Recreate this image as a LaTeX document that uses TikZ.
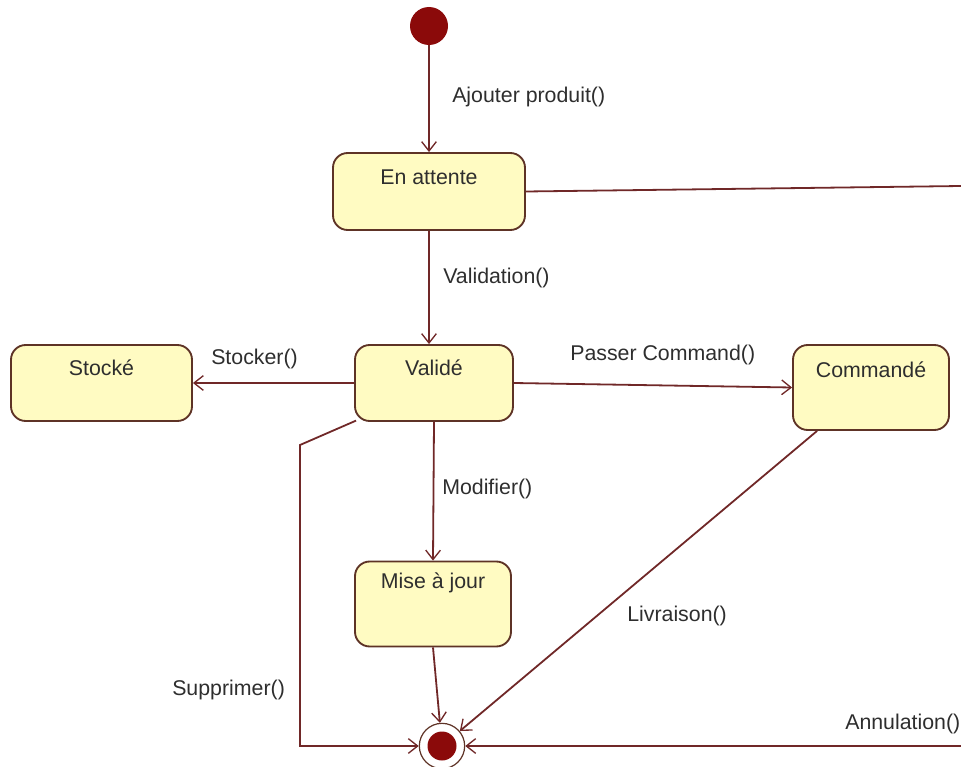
\documentclass[tikz,border=0pt]{standalone}
\usepackage{fontspec}
\setmainfont{Liberation Sans}
\usetikzlibrary{arrows.meta}
\definecolor{statefill}{HTML}{FFFBC2}
\definecolor{stateedge}{HTML}{5E3326}
\definecolor{wire}{HTML}{702828}
\definecolor{dotred}{HTML}{8B0A0A}
\definecolor{ink}{HTML}{2E2E2E}
\begin{document}
\begin{tikzpicture}[x=0.75pt,y=-0.75pt,
  font=\fontsize{16}{19}\selectfont,
  state/.style={draw=stateedge, fill=statefill, line width=1.4pt,
    rounded corners=11pt, inner sep=0pt},
  statetext/.style={text=ink, inner sep=0pt},
  evt/.style={text=ink, anchor=west, inner sep=0pt},
  wireline/.style={draw=wire, line width=1.35pt},
  flow/.style={wireline, -{Straight Barb[length=7pt,width=11pt,line width=1pt]}}]
\useasboundingbox (0,0) rectangle (961,767);
\clip (0,0) rectangle (961,767);

% states
\node[state, minimum width=144pt, minimum height=57.75pt] (attente) at (429,191.5) {};
\node[statetext] (attente-t) at (429,177) {En attente};
\node[state, minimum width=118.5pt, minimum height=57pt] (valide) at (434,383) {};
\node[statetext] (valide-t) at (434,368) {Validé};
\node[state, minimum width=135.75pt, minimum height=57pt] (stocke) at (101.5,383) {};
\node[statetext] (stocke-t) at (101.5,368) {Stocké};
\node[state, minimum width=117pt, minimum height=63.75pt] (commande) at (871,387.5) {};
\node[statetext] (commande-t) at (871,370) {Commandé};
\node[state, minimum width=117pt, minimum height=63.75pt] (maj) at (433,604) {};
\node[statetext] (maj-t) at (433,583) {Mise à jour};

% pseudo-states
\node[circle, fill=dotred, minimum size=28.5pt, inner sep=0pt] (init) at (429,26) {};
\node[circle, draw=stateedge, line width=0.9pt, fill=white, minimum size=34pt, inner sep=0pt] (final) at (442,746) {};
\node[circle, fill=dotred, minimum size=21.75pt, inner sep=0pt] (final-core) at (final) {};

% free ends and bends
\coordinate (attente-out) at (961,186);
\coordinate (annul-in) at (961,746);
\coordinate (supp-bend) at (300,445);

% transitions
\draw[flow] (init) -- (attente);
\draw[flow] (attente.south) -- (attente.south |- valide.north);
\draw[flow] (valide.west) -- (stocke.east);
\draw[flow] (valide.east) -- (commande.west);
\draw[flow] (valide.south) -- (maj.north);
\draw[flow] (maj.south) -- (final);
\draw[flow] ([xshift=18.75pt]commande.south west) -- (final);
\draw[flow] ([shift={(1.5pt,1pt)}]valide.south west) -- (supp-bend) -- (supp-bend |- final) -- (final.west);
\draw[flow] (annul-in) -- (final.east);
\draw[wireline] (attente.east) -- (attente-out);

% events
\node[evt] (lbl-ajout) at (452,97) {Ajouter produit()};
\node[evt] (lbl-valid) at (443,278) {Validation()};
\node[evt] (lbl-stock) at (211,359) {Stocker()};
\node[evt] (lbl-cmd) at (570,355) {Passer Command()};
\node[evt] (lbl-modif) at (442,489) {Modifier()};
\node[evt] (lbl-livr) at (627,616) {Livraison()};
\node[evt] (lbl-supp) at (172,690) {Supprimer()};
\node[evt] (lbl-annul) at (845,724) {Annulation()};
\end{tikzpicture}
\end{document}
